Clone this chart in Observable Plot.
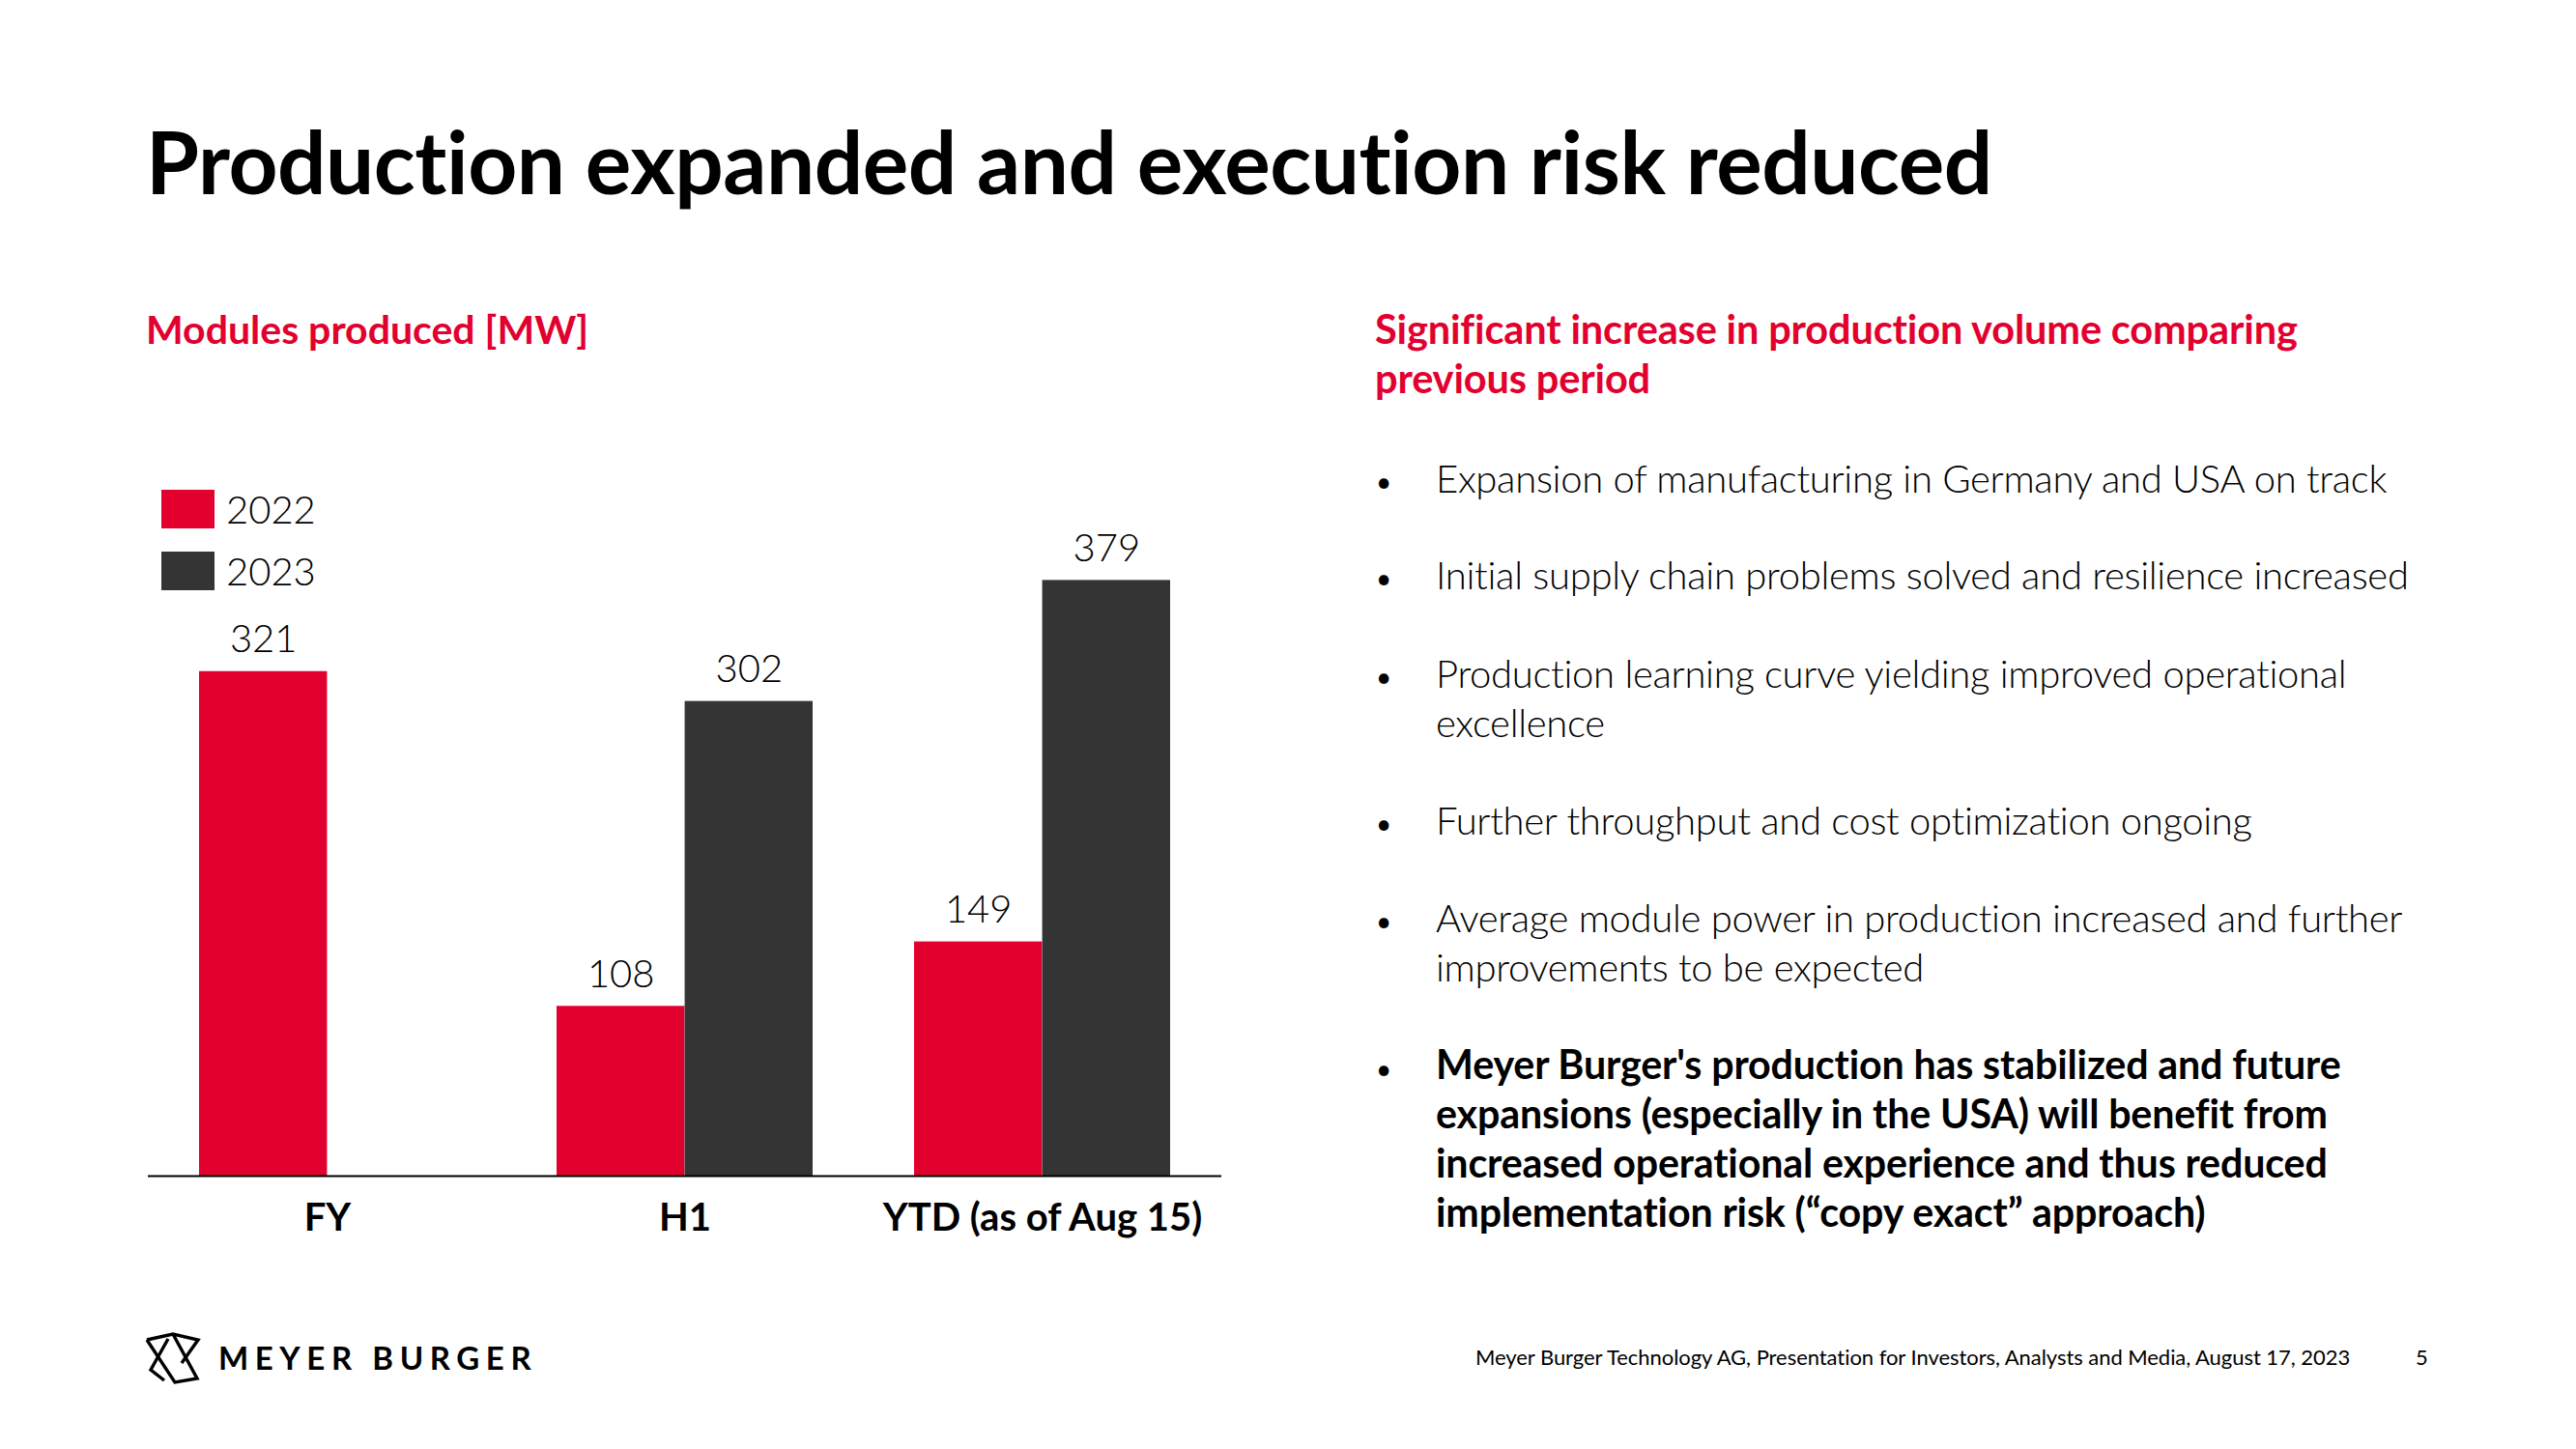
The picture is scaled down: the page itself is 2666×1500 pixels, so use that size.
<!DOCTYPE html>
<html>
<head>
<meta charset="utf-8">
<script src="https://cdn.jsdelivr.net/npm/d3@7"></script>
<script src="https://cdn.jsdelivr.net/npm/@observablehq/plot@0.6"></script>
<style>
html, body { margin: 0; padding: 0; background: #fff; }
#page { position: relative; width: 2666px; height: 1500px; overflow: hidden; font-family: Lato, "Noto Sans", sans-serif; color: #000; background: #fff; }
.t { position: absolute; white-space: nowrap; line-height: 1; }
#chart { position: absolute; left: 0; }
#legend { position: absolute; z-index: 2; }
#legend .lg-swatch { padding-bottom: 16px !important; margin: 0 !important; }
#legend .lg-swatch > svg { margin-right: 12px !important; }
#legend .lg { margin: 0 !important; }
</style>
</head>
<body>
<div id="page"></div>
<script>
// ---------- data ----------
const categories = ["FY", "H1", "YTD (as of Aug 15)"];
const years = ["2022", "2023"];
const values2022 = [321, 108, 149];
const values2023 = [null, 302, 379];
const seriesColors = ["#E2002E", "#343434"];

const slideTitle = "Production expanded and execution risk reduced";
const chartTitle = "Modules produced [MW]";
const headingLines = ["Significant increase in production volume comparing", "previous period"];
const bulletTexts = [
  ["Expansion of manufacturing in Germany and USA on track"],
  ["Initial supply chain problems solved and resilience increased"],
  ["Production learning curve yielding improved operational", "excellence"],
  ["Further throughput and cost optimization ongoing"],
  ["Average module power in production increased and further", "improvements to be expected"],
  ["Meyer Burger's production has stabilized and future", "expansions (especially in the USA) will benefit from", "increased operational experience and thus reduced", "implementation risk (\u201ccopy exact\u201d approach)"]
];
const bulletBold = [false, false, false, false, false, true];
const brandName = "MEYER BURGER";
const footerText = "Meyer Burger Technology AG, Presentation for Investors, Analysts and Media, August 17, 2023";
const pageNumber = "5";

// ---------- helpers ----------
const page = document.getElementById("page");
const RED = seriesColors[0];
function place(text, o) {
  const d = document.createElement("div");
  d.className = "t";
  d.textContent = text;
  const fs = o.size;
  d.style.fontSize = fs + "px";
  d.style.left = o.x + "px";
  d.style.top = (o.baseline - 0.887 * fs) + "px";
  d.style.fontWeight = o.weight || 400;
  d.style.color = o.color || "#000";
  if (o.ls != null) d.style.letterSpacing = o.ls + "px";
  page.appendChild(d);
  return d;
}

// ---------- texts ----------
place(slideTitle, {x: 151, baseline: 201, size: 89, weight: 700, ls: -0.45});
place(chartTitle, {x: 151, baseline: 356, size: 41, weight: 700, color: RED});
headingLines.forEach((l, i) => place(l, {x: 1423, baseline: 357 + i * 51, size: 41.5, weight: 700, color: RED, ls: -0.15}));

const bulletStarts = [510, 610, 712, 864, 965, 1118];
bulletTexts.forEach((lines, b) => {
  const bold = bulletBold[b];
  place("\u2022", {x: 1424, baseline: bulletStarts[b] - 1, size: 28, weight: 400});
  lines.forEach((l, i) => place(l, {x: 1486, baseline: bulletStarts[b] + i * 51, size: bold ? 41.2 : 40, weight: bold ? 700 : 300, ls: bold ? -0.15 : -0.3}));
});

// footer
place(brandName, {x: 226, baseline: 1418, size: 33, weight: 700, ls: 6.6});
place(footerText, {x: 1527, baseline: 1414, size: 22, weight: 400, ls: -0.05});
place(pageNumber, {x: 2500, baseline: 1414, size: 22, weight: 400});

// logo
const logo = document.createElementNS("http://www.w3.org/2000/svg", "svg");
logo.setAttribute("width", 62); logo.setAttribute("height", 62);
logo.style.position = "absolute"; logo.style.left = "148px"; logo.style.top = "1374px";
logo.innerHTML = '<g fill="none" stroke="#000" stroke-width="3.4" stroke-linejoin="miter" stroke-linecap="butt">' +
  '<path d="M4,13 L31,7 L57,13 L40,37"/>' +
  '<path d="M4,13 L33,57 L56,53 L31,7"/>' +
  '<path d="M26,12 L8,44 L22,55"/></g>';
page.appendChild(logo);

// ---------- chart ----------
const data = [];
categories.forEach((c, i) => {
  if (values2022[i] != null) data.push({cat: c, year: years[0], value: values2022[i]});
  if (values2023[i] != null) data.push({cat: c, year: years[1], value: values2023[i]});
});

const svgTop = 480, svgW = 1300, svgH = 840;
const mL = 153, mR = 36;
const baselineY = 1217 - svgTop;
const pxPerUnit = 1.627;
const yMax = 440;
const mB = svgH - baselineY;
const mT = baselineY - yMax * pxPerUnit;
const padIn = 0.284, padOut = 0.142;
const step = (svgW - mL - mR) / (categories.length - padIn + 2 * padOut);
const bw = step * (1 - padIn);
const half = bw / 2;

const d22 = data.filter(d => d.year === years[0]);
const d23 = data.filter(d => d.year === years[1]);

const chart = Plot.plot({
  width: svgW,
  height: svgH,
  marginLeft: mL, marginRight: mR, marginTop: mT, marginBottom: mB,
  style: {fontFamily: "Lato, sans-serif", background: "transparent", overflow: "visible"},
  x: {domain: categories, paddingInner: padIn, paddingOuter: padOut, label: null},
  y: {domain: [0, yMax], axis: null},
  color: {domain: years, range: seriesColors},
  marks: [
    Plot.barY(d22, {x: "cat", y: "value", fill: "year", insetRight: half}),
    Plot.barY(d23, {x: "cat", y: "value", fill: "year", insetLeft: half}),
    Plot.text(d22, {x: "cat", y: "value", text: d => String(d.value), dx: -half / 2, dy: -33, fontSize: 40, fontWeight: 300, fill: "#000"}),
    Plot.text(d23, {x: "cat", y: "value", text: d => String(d.value), dx: half / 2, dy: -33, fontSize: 40, fontWeight: 300, fill: "#000"}),
    Plot.ruleY([0], {stroke: "#000", strokeWidth: 2.2}),
    Plot.axisX({tickSize: 0, tickPadding: 28, fontSize: 40, fontWeight: 700, fill: "#000", label: null})
  ]
});
chart.id = "chart";
chart.style.position = "absolute";
chart.style.left = "0px";
chart.style.top = svgTop + "px";
page.appendChild(chart);

// legend
const legend = Plot.legend({
  color: {domain: years, range: seriesColors},
  legend: "swatches",
  columns: 1,
  swatchWidth: 55,
  swatchHeight: 40,
  className: "lg",
  style: {fontFamily: "Lato, sans-serif", fontSize: "40px", fontWeight: 300, color: "#000"}
});
const lgWrap = document.createElement("div");
lgWrap.id = "legend";
lgWrap.style.left = "167px";
lgWrap.style.top = "503px";
lgWrap.appendChild(legend);
page.appendChild(lgWrap);
</script>
</body>
</html>
